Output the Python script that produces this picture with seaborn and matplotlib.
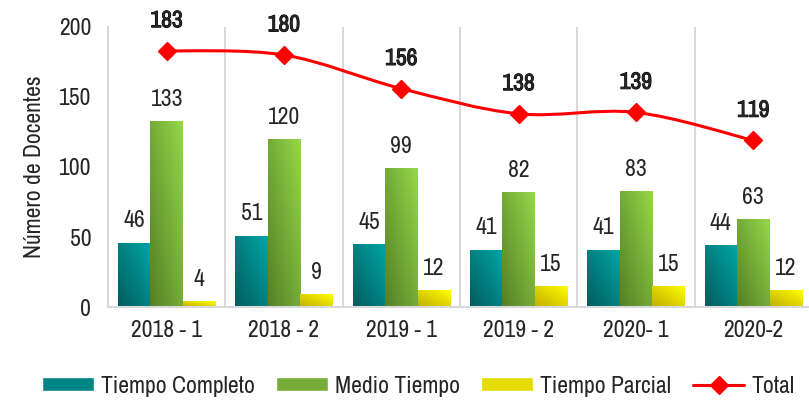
import numpy as np
import pandas as pd
import seaborn as sns
import matplotlib.pyplot as plt
import matplotlib.patheffects as pe
from matplotlib import font_manager
from matplotlib.path import Path
from matplotlib.patches import PathPatch, Patch
from matplotlib.lines import Line2D
from matplotlib.colors import LinearSegmentedColormap

# Data
periodos = ['2018 - 1', '2018 - 2', '2019 - 1', '2019 - 2', '2020- 1', '2020-2']
tiempo_completo = [46, 51, 45, 41, 41, 44]
medio_tiempo = [133, 120, 99, 82, 83, 63]
tiempo_parcial = [4, 9, 12, 15, 15, 12]
total = [183, 180, 156, 138, 139, 119]
series = ['Tiempo Completo', 'Medio Tiempo', 'Tiempo Parcial']

# gradient colours (dark, light) per series
grad = {
    'Tiempo Completo': ('#005c5c', '#00a6a6'),
    'Medio Tiempo': ('#557f25', '#94d84a'),
    'Tiempo Parcial': ('#c2ad00', '#ffff00'),
}
solid = {'Tiempo Completo': '#008585', 'Medio Tiempo': '#76ad38', 'Tiempo Parcial': '#e6dc00'}

df = pd.DataFrame({'periodo': periodos * 3,
                   'serie': np.repeat(series, len(periodos)),
                   'valor': tiempo_completo + medio_tiempo + tiempo_parcial})

sns.set_style('white')

# narrow font if one is installed (reference uses Arial Narrow)
names = sorted({f.name for f in font_manager.fontManager.ttflist})
if 'Liberation Sans Narrow' in names:
    fam = 'Liberation Sans Narrow'
else:
    narrow = [n for n in names if 'Narrow' in n or 'Condensed' in n]
    fam = narrow[0] if narrow else 'Liberation Sans'
plt.rcParams['font.family'] = [fam, 'DejaVu Sans']

fig = plt.figure(figsize=(8.09, 4.01), dpi=100)
ax = fig.add_axes([0.1335, 0.2344, 0.8665, 0.6983])

sns.barplot(data=df, x='periodo', y='valor', hue='serie', hue_order=series,
            palette=solid, width=0.83, gap=0, ax=ax, legend=False, zorder=2)

# diagonal gradient on each bar, clipped to the bar
g = np.add.outer(np.linspace(0, 1, 50), np.linspace(0, 1, 50)) / 2
for cont, s in zip(ax.containers, series):
    cmap = LinearSegmentedColormap.from_list(s, grad[s])
    for bar in cont:
        x0, y0 = bar.get_x(), bar.get_y()
        w, h = bar.get_width(), bar.get_height()
        im = ax.imshow(g, cmap=cmap, origin='lower', extent=[x0, x0 + w, y0, y0 + h],
                       aspect='auto', zorder=2.5, interpolation='bilinear')
        im.set_clip_path(bar)
    ax.bar_label(cont, fontsize=17, padding=8)

# smoothed total line (Excel style bezier through points)
xs = np.arange(len(total), dtype=float)
ys = np.array(total, dtype=float)
pts = np.column_stack([xs, ys])
verts = [pts[0]]
codes = [Path.MOVETO]
for i in range(len(pts) - 1):
    p0 = pts[max(i - 1, 0)]
    p1 = pts[i]
    p2 = pts[i + 1]
    p3 = pts[min(i + 2, len(pts) - 1)]
    verts += [p1 + (p2 - p0) / 6, p2 - (p3 - p1) / 6, p2]
    codes += [Path.CURVE4] * 3
ax.add_patch(PathPatch(Path(verts, codes), fill=False, edgecolor='#ff0000', lw=2.2, zorder=4))
ax.plot(xs, ys, linestyle='none', marker='D', markersize=9, color='#ff0000', zorder=5)
# no bold face for the narrow font, so thicken the glyphs a little
for x, y in zip(xs, ys):
    ax.annotate(str(int(y)), (x, y), xytext=(0, 17), textcoords='offset points',
                ha='center', va='baseline', fontsize=17, fontweight='bold',
                path_effects=[pe.withStroke(linewidth=0.7, foreground='black')])

ax.set_ylim(0, 200)
ax.set_xlim(-0.5, 5.475)
ax.set_yticks([0, 50, 100, 150, 200])
ax.tick_params(axis='both', length=0, labelsize=17)
ax.tick_params(axis='y', pad=12)
ax.tick_params(axis='x', pad=9)
ax.set_xlabel('')
ax.set_ylabel('Número de Docentes', fontsize=17, labelpad=10)

for b in np.arange(0.5, 5, 1):
    ax.axvline(b, color='#d9d9d9', lw=1.5, zorder=1)
for sp in ['top', 'right']:
    ax.spines[sp].set_visible(False)
for sp in ['left', 'bottom']:
    ax.spines[sp].set_color('#d9d9d9')
    ax.spines[sp].set_linewidth(1.5)

handles = [Patch(facecolor=solid[s], label=s) for s in series]
handles.append(Line2D([0], [0], color='#ff0000', lw=2.2, marker='D', markersize=9, label='Total'))
fig.legend(handles=handles, loc='center', bbox_to_anchor=(0.517, 0.037), ncol=4, frameon=False,
           fontsize=17, handlelength=2.2, handleheight=0.55, columnspacing=0.9, handletextpad=0.3)

fig.savefig('out.png', dpi=100)
